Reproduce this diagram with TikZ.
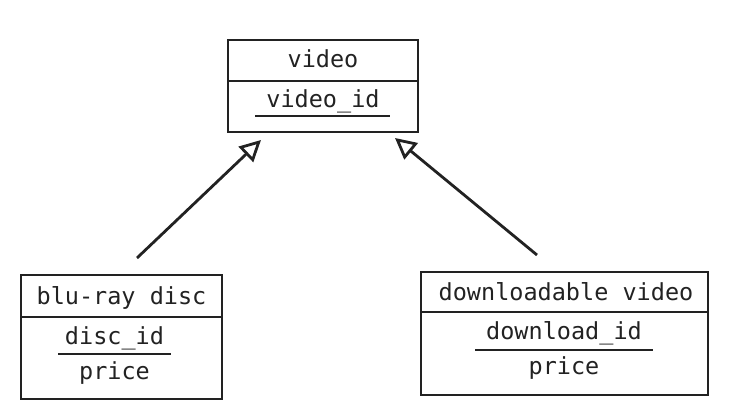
\documentclass[tikz,border=0pt]{standalone}
\usepackage{fontspec}
\setmonofont{DejaVu Sans Mono}
\usetikzlibrary{arrows.meta}
\definecolor{ink}{HTML}{222222}
\begin{document}
\begin{tikzpicture}[x=1pt,y=-1pt,
  box/.style={draw=ink,line width=2.8pt,inner sep=0pt,outer sep=0pt},
  sep/.style={draw=ink,line width=2.8pt},
  lbl/.style={anchor=base,inner sep=0pt,text=ink,font=\ttfamily\fontsize{23.5}{26}\selectfont},
  ul/.style={draw=ink,line width=2.8pt},
  inherit/.style={draw=ink,line width=2.8pt,-{Triangle[open,length=21pt,width=21pt]}}]
\useasboundingbox (0,0) rectangle (729,419);
% video
\node[box,minimum width=190pt,minimum height=92pt] (video) at (323,86) {};
\draw[sep] (video.west |- 0,81) -- (video.east |- 0,81);
\node[lbl] (vt) at (323,68) {video};
\node[lbl] (vid) at (323,108) {video\_id};
\draw[ul] (255,116) -- (390,116);
% blu-ray disc
\node[box,minimum width=201pt,minimum height=124pt] (disc) at (121.5,337) {};
\draw[sep] (disc.west |- 0,317) -- (disc.east |- 0,317);
\node[lbl] (dt) at (121.5,305) {blu-ray disc};
\node[lbl] (did) at (114.5,345) {disc\_id};
\node[lbl] (dp) at (114.5,380) {price};
\draw[ul] (58,354) -- (171,354);
% downloadable video
\node[box,minimum width=287pt,minimum height=123pt] (dl) at (564.5,333.5) {};
\draw[sep] (dl.west |- 0,312) -- (dl.east |- 0,312);
\node[lbl] (lt) at (566,301) {downloadable video};
\node[lbl] (lid) at (564,340) {download\_id};
\node[lbl] (lp) at (564,375) {price};
\draw[ul] (475,350) -- (653,350);
% inheritance arrows
\coordinate (a1s) at (137,258);
\coordinate (a1e) at (261,140);
\coordinate (a2s) at (537,255);
\coordinate (a2e) at (395,138);
\draw[inherit] (a1s) -- (a1e);
\draw[inherit] (a2s) -- (a2e);
\end{tikzpicture}
\end{document}
